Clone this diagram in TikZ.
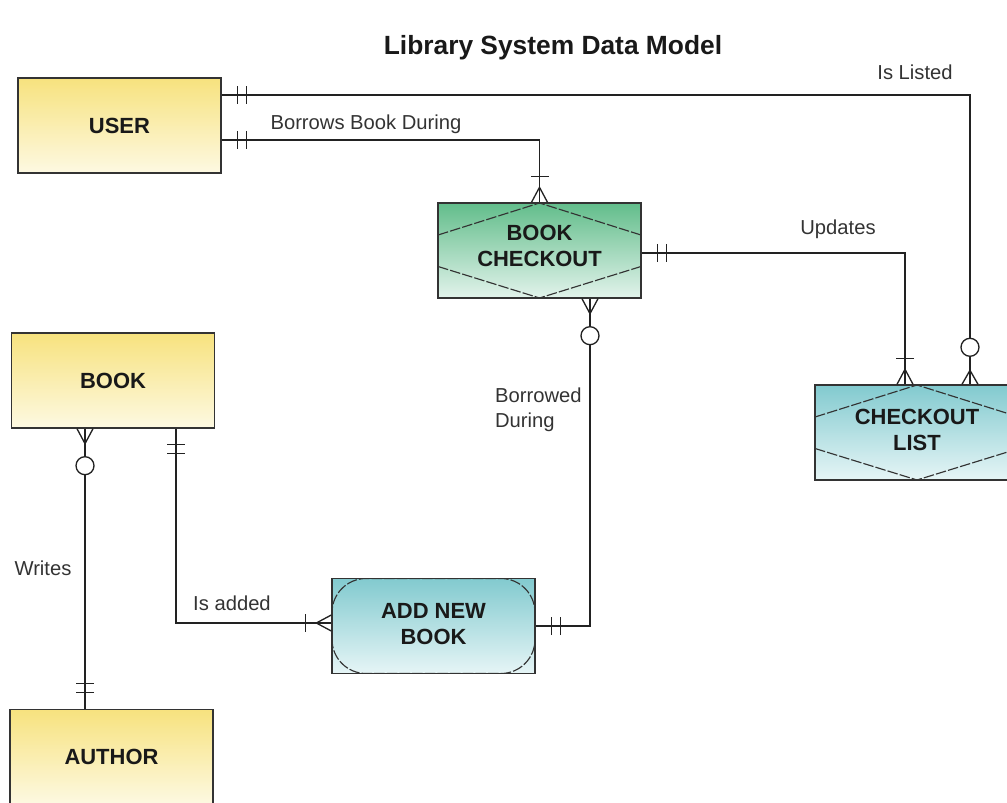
\documentclass[tikz,border=0pt]{standalone}
\usepackage{fontspec}
\setmainfont{Liberation Sans}
\usetikzlibrary{positioning,decorations.markings}

\definecolor{boxline}{HTML}{333333}
\definecolor{relline}{HTML}{222222}
\definecolor{yeltop}{HTML}{F7E27E}
\definecolor{yelbot}{HTML}{FDF9E2}
\definecolor{grntop}{HTML}{62BD8B}
\definecolor{grnbot}{HTML}{E2F3EB}
\definecolor{cyntop}{HTML}{82CACF}
\definecolor{cynbot}{HTML}{E6F5F6}

\begin{document}
\begin{tikzpicture}[
    x=0.02cm, y=-0.02cm,
    every node/.style={font=\fontsize{11.5}{14.2}\selectfont, text=black!80},
    entity/.style={draw=boxline, line width=0.8pt, minimum width=4.06cm, minimum height=1.9cm,
        inner sep=0pt, align=center, font=\fontsize{12.5}{14.8}\selectfont\bfseries, text=black!90},
    plain/.style={top color=yeltop, bottom color=yelbot},
    checkout/.style={top color=grntop, bottom color=grnbot},
    listbox/.style={top color=cyntop, bottom color=cynbot},
    innerdash/.style={draw=boxline, line width=0.65pt, dash pattern=on 6pt off 1.2pt},
    diamondin/.style={path picture={
        \draw[innerdash] ([yshift=-0.64cm]path picture bounding box.north west)
            -- (path picture bounding box.north)
            -- ([yshift=-0.64cm]path picture bounding box.north east);
        \draw[innerdash] ([yshift=0.63cm]path picture bounding box.south west)
            -- (path picture bounding box.south)
            -- ([yshift=0.63cm]path picture bounding box.south east);}},
    roundin/.style={path picture={
        \draw[innerdash, rounded corners=0.68cm] (path picture bounding box.north west)
            rectangle (path picture bounding box.south east);}},
    rel/.style={draw=relline, line width=0.75pt},
    lbl/.style={inner sep=1pt},
    % cardinality marks
    onlyone start/.style={postaction={decorate, decoration={markings,
        mark=at position 0.32cm with {\draw[rel] (0,-9) -- (0,9);},
        mark=at position 0.5cm with {\draw[rel] (0,-9) -- (0,9);}}}},
    onlyone end/.style={postaction={decorate, decoration={markings,
        mark=at position -0.5cm with {\draw[rel] (0,-9) -- (0,9);},
        mark=at position -0.32cm with {\draw[rel] (0,-9) -- (0,9);}}}},
    oneplus end/.style={postaction={decorate, decoration={markings,
        mark=at position -0.52cm with {\draw[rel] (0,-9) -- (0,9);},
        mark=at position 1 with {\draw[rel] (-15,0) -- (0,-8) (-15,0) -- (0,8);}}}},
    anyno start/.style={postaction={decorate, decoration={markings,
        mark=at position 0 with {\draw[rel] (15,0) -- (0,-8) (15,0) -- (0,8);},
        mark=at position 0.74cm with {\draw[rel, fill=white] (0,0) circle[radius=0.18cm];}}}},
    anyno end/.style={postaction={decorate, decoration={markings,
        mark=at position -0.74cm with {\draw[rel, fill=white] (0,0) circle[radius=0.18cm];},
        mark=at position 1 with {\draw[rel] (-14,0) -- (0,-8) (-14,0) -- (0,8);}}}}
]
\useasboundingbox (0,0) rectangle (1007,803);
\clip (0,0) rectangle (1007,803);

\node[font=\fontsize{15}{18}\selectfont\bfseries, text=black!90] (title) at (553,48) {Library System Data Model};

% entities
\node[entity, plain] (user) at (119.5,125.5) {USER};
\node[entity, checkout, diamondin, text depth=0.2cm] (bookco) at (539.5,250.5) {BOOK\\CHECKOUT};
\node[entity, listbox, diamondin, minimum width=4.08cm, text depth=0.12cm] (chklist) at (917,432.5) {CHECKOUT\\LIST};
\node[entity, plain] (book) at (113,380.5) {BOOK};
\node[entity, plain, below=5.6cm of book, xshift=-0.03cm] (author) {AUTHOR};
\node[entity, listbox, roundin, text depth=0.08cm] (addbook) at (433.5,626) {ADD NEW\\BOOK};

% relationships
\draw[rel, onlyone start, anyno end] ([yshift=0.61cm]user.east) -| ([xshift=1.06cm]chklist.north);
\draw[rel, onlyone start, oneplus end] ([yshift=-0.29cm]user.east) -| (bookco.north);
\draw[rel, onlyone start, oneplus end] ([yshift=-0.05cm]bookco.east) -| ([xshift=-0.24cm]chklist.north);
\draw[rel, anyno start, onlyone end] ([xshift=1.01cm]bookco.south) |- (addbook.east);
\draw[rel, anyno start, onlyone end] ([xshift=-0.56cm]book.south) -- ([xshift=-0.56cm]book.south |- author.north);
\draw[rel, onlyone start, oneplus end] ([xshift=1.26cm]book.south) |- ([yshift=0.06cm]addbook.west);

% labels
\node[lbl] (listed) at (915,72) {Is Listed};
\node[lbl] (borrows) at (366,124) {Borrows Book During};
\node[lbl] (updates) at (838,229) {Updates};
\node[lbl, align=left, anchor=west] (borrowed) at (493,410) {Borrowed\\During};
\node[lbl] (writes) at (43,568) {Writes};
\node[lbl] (added) at (232,603) {Is added};

\end{tikzpicture}
\end{document}
